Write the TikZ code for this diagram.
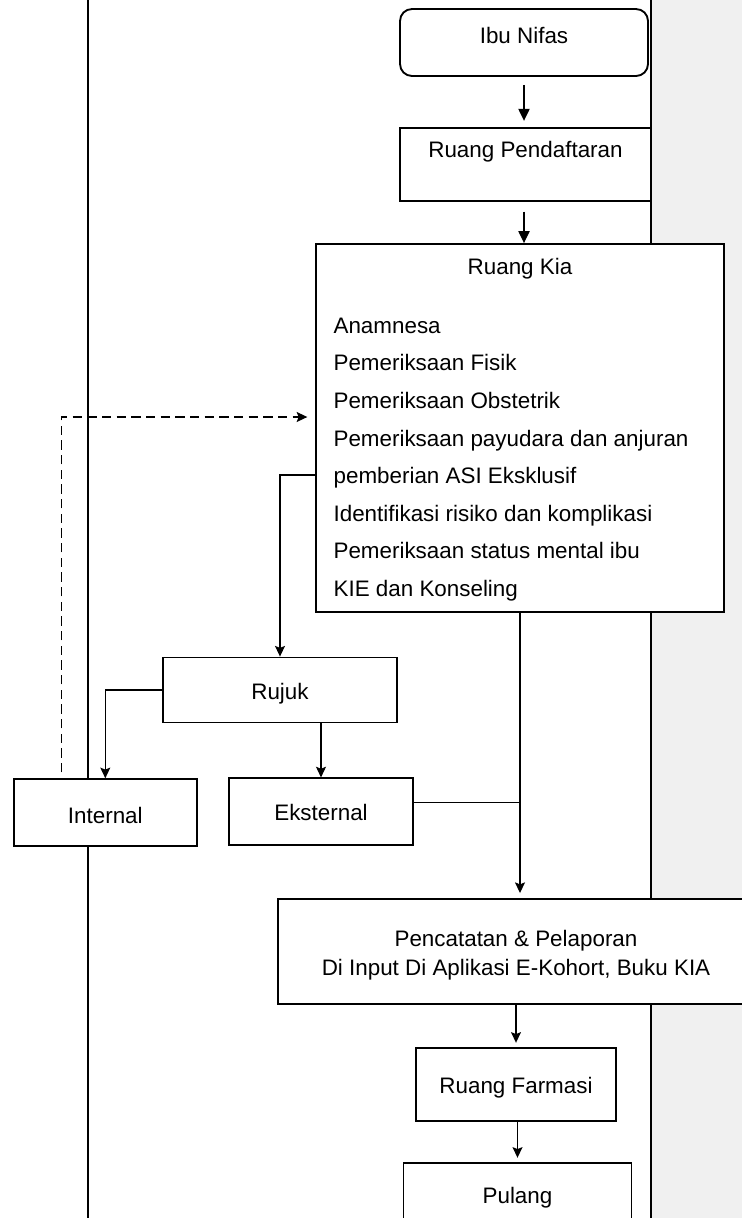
\documentclass[tikz,border=0pt]{standalone}
\usepackage{fontspec}
\setmainfont{Liberation Sans}
\usetikzlibrary{arrows.meta}

\begin{document}
\begin{tikzpicture}[x=0.75pt,y=-0.75pt,line width=0.9pt,
  >={Stealth[length=8pt,width=7.5pt,inset=1.5pt]},
  font=\fontsize{16.8pt}{20pt}\selectfont,
  box/.style={draw,fill=white,line width=1.4pt,inner sep=0pt},
  txt/.style={anchor=base,inner sep=0pt},
  item/.style={anchor=base west,inner sep=0pt},
  blk/.style={-{Triangle[length=9pt,width=8.5pt]}}]
\clip (0,0) rectangle (742,1218);
% lanes
\fill[black!6] (651,0) rectangle (742,1218);
\draw[line width=0.8pt] (88,0) -- (88,1218);
\draw[line width=0.8pt] (651,0) -- (651,1218);
% boxes
\node[box,rounded corners=9pt,minimum width=186pt,minimum height=50.25pt] (nifas) at (524,42.5) {};
\node[txt] (nifasT) at (524,43.3) {Ibu Nifas};
\node[box,minimum width=188.25pt,minimum height=54.75pt] (daftar) at (525.5,164.5) {};
\node[txt] (daftarT) at (525.5,157.7) {Ruang Pendaftaran};
\node[box,minimum width=306pt,minimum height=276pt] (kia) at (520,428) {};
\node[txt] (kiaT) at (520,274.3) {Ruang Kia};
\foreach \t [count=\i from 0] in {Anamnesa,Pemeriksaan Fisik,Pemeriksaan Obstetrik,
    Pemeriksaan payudara dan anjuran,pemberian ASI Eksklusif,
    Identifikasi risiko dan komplikasi,Pemeriksaan status mental ibu,KIE dan Konseling}
  \node[item] (kia\i) at (333,333.3+37.6*\i) {\t};
\node[box,minimum width=175.5pt,minimum height=48.75pt] (rujuk) at (280,690) {};
\node[txt] (rujukT) at (280,699) {Rujuk};
\node[box,minimum width=137.25pt,minimum height=50.25pt] (internal) at (105.3,812.7) {};
\node[txt] (internalT) at (105.3,823.3) {Internal};
\node[box,minimum width=137.5pt,minimum height=50pt] (eksternal) at (321,811.7) {};
\node[txt] (eksternalT) at (321,820) {Eksternal};
\node[box,minimum width=356.5pt,minimum height=78.75pt] (catat) at (516,951.8) {};
\node[txt] (catat1) at (516,946.7) {Pencatatan \& Pelaporan};
\node[txt] (catat2) at (516,975) {Di Input Di Aplikasi E-Kohort, Buku KIA};
\node[box,minimum width=150pt,minimum height=54.5pt] (farmasi) at (516,1084.7) {};
\node[txt] (farmasiT) at (516,1093.3) {Ruang Farmasi};
\node[box,minimum width=171pt,minimum height=60pt] (pulang) at (517.5,1202.7) {};
\node[txt] (pulangT) at (517.5,1203.3) {Pulang};
% connectors
\coordinate (kiaOut) at ([yshift=-35.25pt]kia.west);
\coordinate (kiaIn) at ([yshift=8.25pt]kia.west);
\coordinate (intUp) at ([xshift=-33pt]internal.north);
\coordinate (ekJoin) at ([yshift=6.75pt]eksternal.east);
\draw[blk,shorten <=6pt,shorten >=4.7pt] (nifas.south) -- (nifas.south |- daftar.north);
\draw[blk,shorten <=7.3pt] (nifas.south |- daftar.south) -- (nifas.south |- kia.north);
\draw[->] (kiaOut) -| (rujuk.north);
\draw[->] (rujuk.west) -| (internal.north);
\draw[->] (eksternal.north |- rujuk.south) -- (eksternal.north);
\draw[->,line width=1.1pt,dash pattern=on 7pt off 4pt,shorten <=4.5pt,shorten >=5.8pt] (intUp) |- (kiaIn);
\draw[->,shorten >=4pt] (kia.south) -- (kia.south |- catat.north);
\draw (ekJoin) -- (ekJoin -| kia.south);
\draw[->,shorten >=3.5pt] (catat.south) -- (farmasi.north);
\draw[->,shorten >=3pt] (farmasi.south -| pulang.north) -- (pulang.north);
\end{tikzpicture}
\end{document}
